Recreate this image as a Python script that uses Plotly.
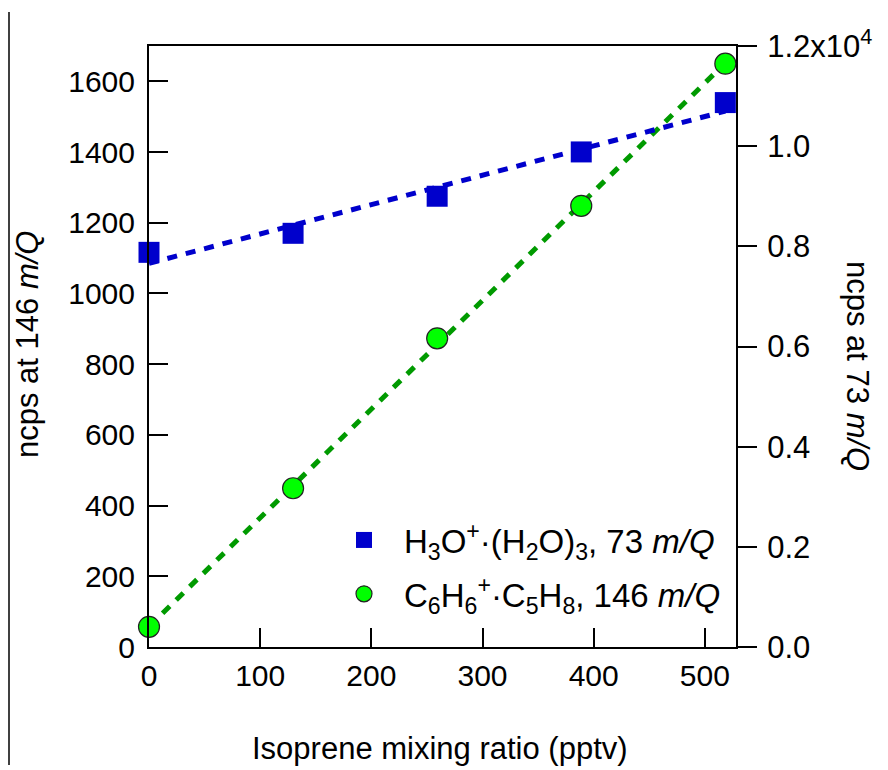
import plotly.graph_objects as go

# ---- data ----
mixing_ratio = [0, 129.6, 259.2, 388.8, 518.4]          # pptv
ncps_73 = [7880, 8260, 9000, 9885, 10870]               # right axis (H3O+(H2O)3)
ncps_146 = [57, 449, 873, 1248, 1650]                   # left axis (C6H6+C5H8)
fit_x = [0, 518.4]
fit_73 = [7660, 10700]
fit_146 = [58, 1652]

left_ticks = [0, 200, 400, 600, 800, 1000, 1200, 1400, 1600]
right_tickvals = [0, 2000, 4000, 6000, 8000, 10000, 12000]
right_ticktext = ["0.0", "0.2", "0.4", "0.6", "0.8", "1.0", "1.2x10<sup>4</sup>"]
x_ticks = [0, 100, 200, 300, 400, 500]

FONT = "Liberation Sans, Arial, sans-serif"
BLUE = "#0000CC"
GREEN_LINE = "#009A00"
GREEN_FILL = "#00FF00"
FS = 30

fig = go.Figure()
fig.add_trace(go.Scatter(x=fit_x, y=fit_73, mode="lines", yaxis="y2",
                         line=dict(color=BLUE, width=5, dash="10px,9px"),
                         showlegend=False, hoverinfo="skip"))
fig.add_trace(go.Scatter(x=fit_x, y=fit_146, mode="lines", yaxis="y",
                         line=dict(color=GREEN_LINE, width=5, dash="10px,9px"),
                         showlegend=False, hoverinfo="skip"))
fig.add_trace(go.Scatter(x=mixing_ratio, y=ncps_73, mode="markers", yaxis="y2",
                         legendgroup="a", cliponaxis=False,
                         marker=dict(symbol="square", size=21, color=BLUE,
                                     line=dict(width=0)),
                         name="H<sub>3</sub>O<sup>+</sup>·(H<sub>2</sub>O)<sub>3</sub>, 73 <i>m/Q</i>"))
fig.add_trace(go.Scatter(x=mixing_ratio, y=ncps_146, mode="markers", yaxis="y",
                         legendgroup="b", cliponaxis=False,
                         marker=dict(symbol="circle", size=21, color=GREEN_FILL,
                                     line=dict(width=1.2, color="#222222")),
                         name="C<sub>6</sub>H<sub>6</sub><sup>+</sup>·C<sub>5</sub>H<sub>8</sub>, 146 <i>m/Q</i>"))

# page has an 8px body margin: work in page pixels, convert to figure pixels
OFF = 8
W, H = 888 - OFF, 770 - OFF
L = 149 - OFF
T = 46 - OFF
R = W - (736 - OFF)
B = H - (647 - OFF)
pw = W - L - R
ph = H - T - B

def px_x(p):
    return (p - OFF - L) / pw

def px_y(p):
    return (H - B - (p - OFF)) / ph

fig.update_layout(
    width=W, height=H,
    margin=dict(l=L, r=R, t=T, b=B, autoexpand=False),
    paper_bgcolor="white", plot_bgcolor="white",
    font=dict(family=FONT, size=FS, color="black"),
    xaxis=dict(range=[0, 528], tickvals=x_ticks, ticks="inside", ticklen=19,
               tickwidth=2, tickcolor="black", showline=True, linewidth=2,
               linecolor="black", mirror=True, showgrid=False, zeroline=False,
               tickfont=dict(size=FS), ticklabelstandoff=1, automargin=False),
    yaxis=dict(range=[0, 1700], tickvals=left_ticks, ticks="inside", ticklen=19,
               tickwidth=2, tickcolor="black", showline=True, linewidth=2,
               linecolor="black", showgrid=False, zeroline=False,
               tickfont=dict(size=FS), ticklabelstandoff=6, automargin=False),
    yaxis2=dict(range=[0, 12000], overlaying="y", side="right",
                tickvals=right_tickvals, ticktext=right_ticktext,
                ticks="outside", ticklen=19, tickwidth=2, tickcolor="black",
                showline=True, linewidth=2, linecolor="black",
                showgrid=False, zeroline=False, tickfont=dict(size=31),
                ticklabelstandoff=4, automargin=False),
    legend=dict(x=px_x(324), y=px_y(512), xanchor="left", yanchor="top",
                bgcolor="rgba(0,0,0,0)", font=dict(size=33),
                itemwidth=70, tracegroupgap=8),
    annotations=[
        dict(text="Isoprene mixing ratio (pptv)", x=px_x(440), y=px_y(748),
             xref="paper", yref="paper", showarrow=False,
             xanchor="center", yanchor="middle", font=dict(size=31)),
        dict(text="ncps at 146 <i>m/Q</i>", x=px_x(27), y=px_y(345),
             xref="paper", yref="paper", showarrow=False, textangle=-90,
             xanchor="center", yanchor="middle", font=dict(size=31)),
        dict(text="ncps at 73 <i>m/Q</i>", x=px_x(858), y=px_y(366),
             xref="paper", yref="paper", showarrow=False, textangle=90,
             xanchor="center", yanchor="middle", font=dict(size=31)),
    ],
    shapes=[
        dict(type="line", xref="paper", yref="paper",
             x0=px_x(9), x1=px_x(9), y0=px_y(12), y1=px_y(765),
             line=dict(color="black", width=1.5)),
    ],
)

fig.write_html("out.html")
